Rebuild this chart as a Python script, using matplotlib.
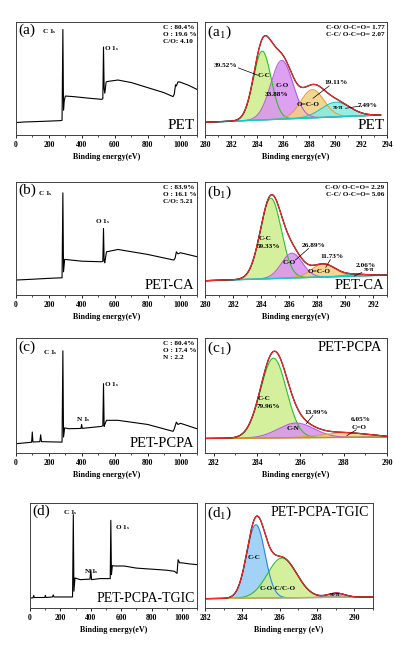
"""XPS survey + C1s high-resolution fits for PET, PET-CA, PET-PCPA, PET-PCPA-TGIC."""

import numpy as np
import matplotlib

matplotlib.use("Agg")
import matplotlib.pyplot as plt
from matplotlib.ticker import MultipleLocator

plt.rcParams["font.family"] = ["Liberation Serif", "DejaVu Serif"]
plt.rcParams["mathtext.fontset"] = "stix"

# ---- survey spectra (binding energy eV, intensity a.u.) ----
be_a = [0, 50, 150, 270, 280, 285, 289, 293, 300, 350, 450, 520, 528, 532, 536, 540,
        548, 560, 620, 700, 800, 900, 955, 962, 970, 975, 985, 995, 1050, 1100]
int_a = [0.110, 0.115, 0.120, 0.127, 0.130, 0.935, 0.220, 0.300, 0.345, 0.340, 0.325,
         0.316, 0.320, 0.780, 0.410, 0.370, 0.470, 0.475, 0.487, 0.465, 0.420, 0.375,
         0.340, 0.360, 0.445, 0.434, 0.470, 0.470, 0.440, 0.404]

be_b = [0, 100, 200, 280, 285, 289, 296, 400, 520, 528, 532, 536, 540, 550, 620, 800,
        960, 968, 975, 985, 1000, 1100]
int_b = [0.133, 0.140, 0.148, 0.153, 0.906, 0.206, 0.316, 0.300, 0.295, 0.300, 0.590,
         0.300, 0.286, 0.383, 0.404, 0.360, 0.310, 0.330, 0.383, 0.365, 0.375, 0.340]

be_c = [0, 95, 99, 103, 145, 150, 155, 280, 285, 289, 296, 320, 395, 399, 403, 500, 520,
        528, 532, 536, 540, 550, 620, 800, 955, 962, 975, 985, 1000, 1100]
int_c = [0.082, 0.095, 0.184, 0.097, 0.100, 0.160, 0.100, 0.096, 0.892, 0.140, 0.220,
         0.213, 0.215, 0.250, 0.216, 0.230, 0.233, 0.240, 0.606, 0.233, 0.250, 0.286,
         0.286, 0.250, 0.190, 0.210, 0.270, 0.250, 0.260, 0.213]

be_d = [0, 20, 24, 28, 97, 101, 105, 148, 153, 158, 280, 285, 289, 296, 330, 395, 400,
        405, 460, 528, 532, 536, 542, 560, 620, 700, 800, 900, 950, 968, 975, 985, 1000,
        1050, 1100]
int_d = [0.095, 0.097, 0.120, 0.100, 0.100, 0.120, 0.100, 0.105, 0.125, 0.105, 0.105,
         0.889, 0.160, 0.286, 0.270, 0.275, 0.365, 0.270, 0.280, 0.280, 0.835, 0.317,
         0.403, 0.400, 0.400, 0.380, 0.370, 0.360, 0.350, 0.330, 0.460, 0.430, 0.430,
         0.420, 0.413]

# survey peak labels: (text, BE, intensity)
peaks_a = [("C 1", 158, 0.92), ("O 1", 535, 0.77)]
peaks_b = [("C 1", 134, 0.90), ("O 1", 480, 0.65)]
peaks_c = [("C 1", 163, 0.88), ("N 1", 365, 0.29), ("O 1", 535, 0.60)]
peaks_d = [("C 1", 217, 0.905), ("N 1", 356, 0.35), ("O 1", 560, 0.77)]

comp_a = "C : 80.4%\nO : 19.6 %\nC/O: 4.10"
comp_b = "C : 83.9%\nO : 16.1 %\nC/O: 5.21"
comp_c = "C : 80.4%\nO : 17.4 %\nN : 2.2"

# ---- C1s fits: component names, centre (eV), height, FWHM (eV) ----
a1_names = ["C-C", "C-O", "O=C-O", "pi"]
a1_center = [284.40, 285.90, 288.25, 290.05]
a1_height = [0.610, 0.520, 0.250, 0.130]
a1_fwhm = [1.60, 2.00, 2.10, 2.60]
a1_bg = [0.112, 0.177]

b1_names = ["C-C", "C-O", "O=C-O", "pi"]
b1_center = [284.70, 286.20, 288.45, 290.70]
b1_height = [0.713, 0.220, 0.115, 0.015]
b1_fwhm = [1.75, 1.75, 2.00, 2.00]
b1_bg = [0.127, 0.177]

c1_names = ["C-C", "C-N", "C=O"]
c1_center = [284.76, 285.80, 288.06]
c1_height = [0.695, 0.128, 0.040]
c1_fwhm = [1.40, 1.95, 2.50]
c1_bg = [0.128, 0.140]

d1_names = ["C-C", "C-O-C/C-O", "pi"]
d1_center = [284.73, 286.13, 289.04]
d1_height = [0.700, 0.380, 0.040]
d1_fwhm = [1.14, 1.84, 1.07]
d1_bg = [0.089, 0.105]

GREEN = ("#2fbf2f", "#cdee8c")
PURPLE = ("#b45ee0", "#d991ef")
ORANGE = ("#e3a23a", "#f2cf82")
CYAN = ("#16c8c8", "#84ece2")
BLUE = ("#2d86e0", "#93caf6")
RED = "#ff2a2a"

BOLD = dict(fontsize=5.2, fontweight="bold")


def gauss(x, c, h, w):
    return h * np.exp(-4 * np.log(2) * (x - c) ** 2 / w ** 2)


def style_axes(ax, xlim, major, minor, xlabel):
    ax.set_xlim(*xlim)
    ax.set_ylim(0, 1)
    ax.set_yticks([])
    ax.xaxis.set_major_locator(MultipleLocator(major))
    ax.xaxis.set_minor_locator(MultipleLocator(minor))
    ax.tick_params(axis="x", which="major", direction="out", length=2, width=0.6,
                   pad=2, labelsize=5.5)
    ax.tick_params(axis="x", which="minor", direction="out", length=1.2, width=0.5)
    for lab in ax.get_xticklabels():
        lab.set_fontweight("bold")
    for sp in ax.spines.values():
        sp.set_linewidth(0.7)
        sp.set_color("#404040")
    ax.set_xlabel(xlabel, fontsize=5.8, fontweight="bold", labelpad=3)


def draw_survey(ax, be, inten, peaks, comp, tag, name, name_size):
    ax.plot(be, inten, color="k", lw=0.8)
    style_axes(ax, (0, 1100), 200, 100, "Binding energy(eV)")
    for lab, e, y in peaks:
        ax.text(e, y, lab + r"$_\mathregular{s}$", ha="left", va="center", **BOLD)
    if comp:
        ax.text(0.81, 0.975, comp, transform=ax.transAxes, ha="left", va="top",
                linespacing=1.45, **BOLD)
    ax.text(0.012, 0.985, tag, transform=ax.transAxes, ha="left", va="top", fontsize=11)
    ax.text(0.985, 0.03, name, transform=ax.transAxes, ha="right", va="bottom",
            fontsize=name_size)


def draw_fit(ax, xr, bg, centers, heights, fwhms, colors, bg_color):
    x = np.linspace(xr[0], xr[1], 500)
    base = np.interp(x, xr, bg)
    total = base.copy()
    comps = []
    for c, h, w, (edge, fill) in zip(centers, heights, fwhms, colors):
        y = gauss(x, c, h, w)
        ax.fill_between(x, base, base + y, color=fill, alpha=0.85, lw=0)
        comps.append((y, edge))
        total += y
    for y, edge in comps:
        ax.plot(x, base + y, color=edge, lw=0.8)
    ax.plot(x, base, color=bg_color, lw=1.0)
    ax.plot(x, total, color="k", lw=0.9)
    ax.plot(x, total, color=RED, lw=0.8)


def leader(ax, start, end):
    ax.annotate("", xy=end, xytext=start,
                arrowprops=dict(arrowstyle="-", lw=0.5, color="k", shrinkA=0, shrinkB=0))


fig = plt.figure(figsize=(3.95, 6.52), dpi=100)

ax_a = fig.add_axes([0.0405, 0.793, 0.458, 0.173])
ax_a1 = fig.add_axes([0.519, 0.793, 0.461, 0.173])
ax_b = fig.add_axes([0.0405, 0.5475, 0.458, 0.173])
ax_b1 = fig.add_axes([0.519, 0.5475, 0.461, 0.173])
ax_c = fig.add_axes([0.0405, 0.305, 0.458, 0.176])
ax_c1 = fig.add_axes([0.519, 0.305, 0.461, 0.176])
ax_d = fig.add_axes([0.076, 0.0675, 0.423, 0.161])
ax_d1 = fig.add_axes([0.519, 0.0675, 0.425, 0.161])

draw_survey(ax_a, be_a, int_a, peaks_a, comp_a, "(a)", "PET", 11)
draw_survey(ax_b, be_b, int_b, peaks_b, comp_b, "(b)", "PET-CA", 10.5)
draw_survey(ax_c, be_c, int_c, peaks_c, comp_c, "(c)", "PET-PCPA", 10.5)
draw_survey(ax_d, be_d, int_d, peaks_d, None, "(d)", "PET-PCPA-TGIC", 10)

# (a1) PET
draw_fit(ax_a1, (280, 293.5), a1_bg, a1_center, a1_height, a1_fwhm,
         [GREEN, PURPLE, ORANGE, CYAN], CYAN[0])
style_axes(ax_a1, (280, 294), 2, 1, "Binding energy(eV)")
ax_a1.text(0.985, 0.975, "C-O/ O-C=O= 1.77\nC-C/ O-C=O= 2.07", transform=ax_a1.transAxes,
           ha="right", va="top", linespacing=1.5, **BOLD)
ax_a1.text(281.55, 0.62, "39.52%", ha="center", va="center", **BOLD)
leader(ax_a1, (282.55, 0.595), (284.05, 0.53))
ax_a1.text(284.55, 0.53, "C-C", ha="center", va="center", **BOLD)
ax_a1.text(285.95, 0.44, "C-O", ha="center", va="center", **BOLD)
ax_a1.text(285.5, 0.36, "33.88%", ha="center", va="center", **BOLD)
ax_a1.text(290.05, 0.465, "19.11%", ha="center", va="center", **BOLD)
leader(ax_a1, (289.55, 0.435), (288.3, 0.325))
ax_a1.text(287.95, 0.27, "O=C-O", ha="center", va="center", **BOLD)
ax_a1.text(292.5, 0.257, "7.49%", ha="center", va="center", **BOLD)
leader(ax_a1, (291.95, 0.257), (290.8, 0.236))
ax_a1.text(290.25, 0.243, "π-π", ha="center", va="center", **BOLD)
ax_a1.text(0.012, 0.985, r"(a$_\mathregular{1}$)", transform=ax_a1.transAxes,
           ha="left", va="top", fontsize=11)
ax_a1.text(0.985, 0.03, "PET", transform=ax_a1.transAxes, ha="right", va="bottom",
           fontsize=11)

# (b1) PET-CA
draw_fit(ax_b1, (280, 293), b1_bg, b1_center, b1_height, b1_fwhm,
         [GREEN, PURPLE, ORANGE, CYAN], CYAN[0])
style_axes(ax_b1, (280, 293), 2, 1, "Binding energy(eV)")
ax_b1.text(0.985, 0.975, "C-O/ O-C=O= 2.29\nC-C/ O-C=O= 5.06", transform=ax_b1.transAxes,
           ha="right", va="top", linespacing=1.5, **BOLD)
ax_b1.text(284.3, 0.50, "C-C", ha="center", va="center", **BOLD)
ax_b1.text(284.5, 0.434, "59.33%", ha="center", va="center", **BOLD)
ax_b1.text(287.75, 0.442, "26.89%", ha="center", va="center", **BOLD)
leader(ax_b1, (287.4, 0.413), (286.45, 0.31))
ax_b1.text(286.05, 0.286, "C-O", ha="center", va="center", **BOLD)
ax_b1.text(289.1, 0.345, "11.73%", ha="center", va="center", **BOLD)
leader(ax_b1, (288.95, 0.315), (288.62, 0.245))
ax_b1.text(288.15, 0.206, "O=C-O", ha="center", va="center", **BOLD)
ax_b1.text(291.5, 0.26, "2.06%", ha="center", va="center", **BOLD)
ax_b1.text(291.7, 0.222, "π-π", ha="center", va="center", **BOLD)
leader(ax_b1, (291.2, 0.2), (290.65, 0.168))
ax_b1.text(0.012, 0.985, r"(b$_\mathregular{1}$)", transform=ax_b1.transAxes,
           ha="left", va="top", fontsize=11)
ax_b1.text(0.985, 0.03, "PET-CA", transform=ax_b1.transAxes, ha="right", va="bottom",
           fontsize=10.5)

# (c1) PET-PCPA
draw_fit(ax_c1, (281.6, 290), c1_bg, c1_center, c1_height, c1_fwhm,
         [GREEN, PURPLE, ORANGE], "#d08a1c")
style_axes(ax_c1, (281.6, 290), 2, 1, "Binding energy(eV)")
ax_c1.text(284.33, 0.475, "C-C", ha="center", va="center", **BOLD)
ax_c1.text(284.53, 0.408, "79.96%", ha="center", va="center", **BOLD)
ax_c1.text(286.75, 0.355, "13.99%", ha="center", va="center", **BOLD)
leader(ax_c1, (286.58, 0.33), (286.27, 0.257))
ax_c1.text(285.65, 0.213, "C-N", ha="center", va="center", **BOLD)
ax_c1.text(288.77, 0.29, "6.05%", ha="center", va="center", **BOLD)
ax_c1.text(288.73, 0.222, "C=O", ha="center", va="center", **BOLD)
leader(ax_c1, (288.58, 0.204), (288.14, 0.152))
ax_c1.text(0.012, 0.985, r"(c$_\mathregular{1}$)", transform=ax_c1.transAxes,
           ha="left", va="top", fontsize=11)
ax_c1.text(0.975, 0.975, "PET-PCPA", transform=ax_c1.transAxes, ha="right", va="top",
           fontsize=10.5)

# (d1) PET-PCPA-TGIC
draw_fit(ax_d1, (282, 291), d1_bg, d1_center, d1_height, d1_fwhm,
         [BLUE, GREEN, PURPLE], "#c8b040")
style_axes(ax_d1, (282, 291), 2, 1, "Binding energy (eV)")
ax_d1.text(284.62, 0.483, "C-C", ha="center", va="center", **BOLD)
ax_d1.text(285.92, 0.19, "C-O-C/C-O", ha="center", va="center", **BOLD)
ax_d1.text(288.95, 0.127, "π-π", ha="center", va="center", **BOLD)
ax_d1.text(0.012, 0.985, r"(d$_\mathregular{1}$)", transform=ax_d1.transAxes,
           ha="left", va="top", fontsize=11)
ax_d1.text(0.975, 0.975, "PET-PCPA-TGIC", transform=ax_d1.transAxes, ha="right",
           va="top", fontsize=10)

fig.savefig("out.png", dpi=100)
plt.close(fig)
